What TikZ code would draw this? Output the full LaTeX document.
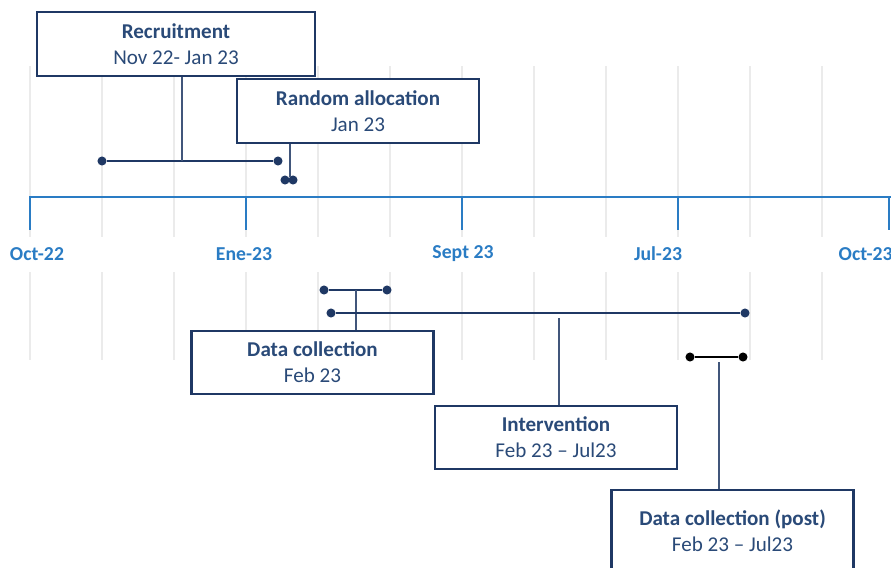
\documentclass[tikz,border=0pt]{standalone}
\usepackage{fontspec}
\setmainfont{Carlito}
\usetikzlibrary{positioning}
\definecolor{navy}{HTML}{1F3864}
\definecolor{boxtext}{HTML}{2A4A78}
\definecolor{axisblue}{HTML}{2A7CC4}
\definecolor{gridgray}{HTML}{EBEBEB}

\begin{document}
\begin{tikzpicture}[x=0.75pt, y=-0.75pt,
      box/.style={draw=navy, line width=1.9pt, fill=white, align=center,
      minimum width=181.5pt, minimum height=47.5pt, text=boxtext,
      font=\fontsize{15.8}{19.5}\selectfont},
      bar/.style={navy, line width=1.8pt},
      stem/.style={navy!85, line width=1.1pt},
      gridline/.style={gridgray, line width=1.5pt},
      axis/.style={axisblue, line width=2.2pt},
      dot/.style={circle, fill=navy, inner sep=0pt, minimum size=6.8pt},
      month/.style={text=axisblue, font=\bfseries\fontsize{14.8}{16}\selectfont}
    ]
    \useasboundingbox (0,0) rectangle (891,567);
    % background grid
    \foreach \i in {0,...,12} {
      \draw[gridline] (30+72*\i,66) -- (30+72*\i,237);
      \draw[gridline] (30+72*\i,272) -- (30+72*\i,360);
    }
    % time axis
    \draw[axis] (30,197) -- (891,197);
    \foreach \x in {30,246,462,678,889}
      \draw[axis] (\x,196) -- (\x,230);
    \node[month] (oct22) at (37,254) {Oct-22};
    \node[month] (ene23) at (244,254) {Ene-23};
    \node[month] (sep23) at (463,254) {Sept 23};
    \node[month] (jul23) at (658,254) {Jul-23};
    \node[month, anchor=west] (oct23) at (834,254) {Oct-23};

    % boxes
    \node[box, minimum width=208.5pt, minimum height=48pt] (recruit) at (176,44)
      {\textbf{Recruitment}\\Nov 22- Jan 23};
    \node[box, minimum height=48pt] (alloc) at (358,111)
      {\textbf{Random allocation}\\Jan 23};
    \node[box] (collect) at (312.5,362.5) {\textbf{Data collection}\\Feb 23};
    \node[box] (interv) at (556,437.5) {\textbf{Intervention}\\Feb 23 -- Jul23};
    \node[box, minimum height=61pt] (post) at (732.5,530.5)
      {\textbf{Data collection (post)}\\Feb 23 -- Jul23};

    % recruitment
    \node[dot] (r1) at (102,161) {};
    \node[dot] (r2) at (278,161) {};
    \draw[bar] (r1) -- (r2);
    \coordinate (rj) at (182,161);
    \draw[stem] (recruit.south -| rj) -- (rj);
    % allocation
    \node[dot] (a1) at (285,180) {};
    \node[dot] (a2) at (293,180) {};
    \coordinate (aj) at (290,177);
    \draw[stem] (alloc.south -| aj) -- (aj);
    % data collection
    \node[dot] (d1) at (324,290) {};
    \node[dot] (d2) at (387,290) {};
    \draw[bar] (d1) -- (d2);
    \coordinate (dj) at (356,290);
    \draw[stem] (dj) -- (collect.north -| dj);
    % intervention
    \node[dot] (i1) at (331,313) {};
    \node[dot] (i2) at (745,313) {};
    \draw[bar] (i1) -- (i2);
    \coordinate (ij) at (559,318);
    \draw[stem] (ij) -- (interv.north -| ij);
    % data collection (post)
    \node[dot, fill=black] (p1) at (690,357) {};
    \node[dot, fill=black] (p2) at (743,357) {};
    \draw[bar, black] (p1) -- (p2);
    \coordinate (pj) at (719,362);
    \draw[stem] (pj) -- (post.north -| pj);
  \end{tikzpicture}
\end{document}
